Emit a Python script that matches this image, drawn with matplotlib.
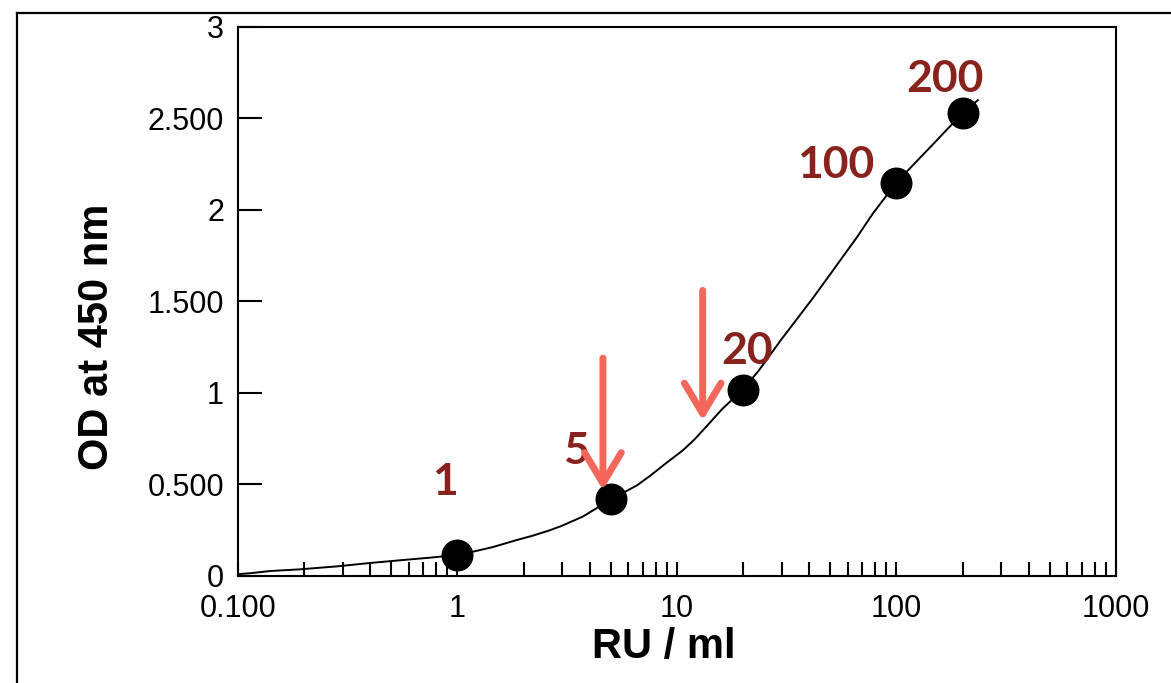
# ELISA standard curve - OD at 450 nm vs RU/ml

import matplotlib
matplotlib.use('Agg')
import matplotlib.pyplot as plt
from matplotlib.lines import Line2D
from matplotlib.ticker import LogLocator, FixedLocator, NullFormatter

# standards (RU/ml) and measured OD
std_conc = [1, 5, 20, 100, 200]
std_od = [0.115, 0.42, 1.016, 2.15, 2.53]
std_labels = ['1', '5', '20', '100', '200']

# fitted curve
curve_conc = [0.1, 0.114, 0.14, 0.19, 0.28, 0.40, 0.55, 0.75, 1.0, 1.2, 1.45,
              1.87, 2.2, 2.64, 3.0, 3.73, 4.3, 5.0, 5.8, 6.57, 7.5, 9.0, 10.6,
              12, 13.7, 16, 20, 23.5, 27.4, 30, 35, 41.7, 50, 57, 66, 78, 100,
              120, 147, 170, 200, 235]
curve_od = [0.01, 0.015, 0.027, 0.036, 0.052, 0.071, 0.086, 0.10, 0.115, 0.135,
            0.158, 0.197, 0.22, 0.25, 0.275, 0.325, 0.37, 0.42, 0.46, 0.495,
            0.545, 0.62, 0.685, 0.745, 0.82, 0.91, 1.02, 1.12, 1.23, 1.295,
            1.40, 1.52, 1.65, 1.745, 1.85, 1.98, 2.15, 2.25, 2.36, 2.44, 2.53,
            2.6]

# red arrows: (x, start od, end od)
arrow_x = [4.6, 13.1]
arrow_top = [1.19, 1.56]
arrow_tip = [0.47, 0.85]

x_ticks = [0.1, 1, 10, 100, 1000]
x_ticklabels = ['0.100', '1', '10', '100', '1000']
y_ticks = [0, 0.5, 1, 1.5, 2, 2.5, 3]
y_ticklabels = ['0', '0.500', '1', '1.500', '2', '2.500', '3']

label_color = '#88221d'
arrow_color = '#f2665c'

plt.rcParams['font.family'] = ['Liberation Sans', 'DejaVu Sans']

fig = plt.figure(figsize=(11.71, 6.83), dpi=100)
ax = fig.add_axes([0.2032, 0.1567, 0.7498, 0.8038])

ax.plot(curve_conc, curve_od, color='black', lw=1.4, zorder=2)
ax.plot(std_conc, std_od, 'o', color='black', markersize=22, zorder=3)

# point labels, offsets in points from each standard
label_offsets = [(-9, 43), (-25, 25), (3, 19), (-44, 3), (-13, 15)]
for c, od, txt, off in zip(std_conc, std_od, std_labels, label_offsets):
    ax.annotate(txt, (c, od), xytext=off, textcoords='offset points',
                ha='center', va='baseline', fontsize=32, fontweight='bold',
                color=label_color, family=['Lato', 'DejaVu Sans'])

for x, y0, y1 in zip(arrow_x, arrow_top, arrow_tip):
    ax.annotate('', xy=(x, y1), xytext=(x, y0),
                arrowprops=dict(arrowstyle='->, head_length=1.0, head_width=0.6',
                                color=arrow_color, lw=5, mutation_scale=22,
                                shrinkA=0, shrinkB=0, capstyle='round',
                                joinstyle='round'),
                zorder=4)

ax.set_xscale('log')
ax.set_xlim(0.1, 1000)
ax.set_ylim(0, 3)

ax.xaxis.set_major_locator(FixedLocator(x_ticks))
ax.set_xticklabels(x_ticklabels)
ax.xaxis.set_minor_locator(LogLocator(base=10, subs=range(2, 10)))
ax.xaxis.set_minor_formatter(NullFormatter())
ax.set_yticks(y_ticks)
ax.set_yticklabels(y_ticklabels)

ax.tick_params(axis='x', which='both', direction='in', length=10, width=1.5,
               labelsize=22, pad=13, top=False)
ax.tick_params(axis='y', direction='in', length=17, width=1.5, labelsize=22,
               pad=10, right=False)

for s in ax.spines.values():
    s.set_linewidth(1.5)

ax.set_xlabel('RU / ml', fontsize=30, fontweight='bold', va='baseline')
ax.xaxis.set_label_coords(0.485, -0.149)
ax.set_ylabel('OD at 450 nm', fontsize=30, fontweight='bold', va='baseline')
ax.yaxis.set_label_coords(-0.148, 0.435)

# outer frame of the slide
fig.add_artist(Line2D([0.0145, 1.0], [0.981, 0.981], color='black', lw=1.6,
                      transform=fig.transFigure))
fig.add_artist(Line2D([0.0145, 0.0145], [0.0, 0.981], color='black', lw=1.6,
                      transform=fig.transFigure))

fig.savefig('out.png', dpi=100)
